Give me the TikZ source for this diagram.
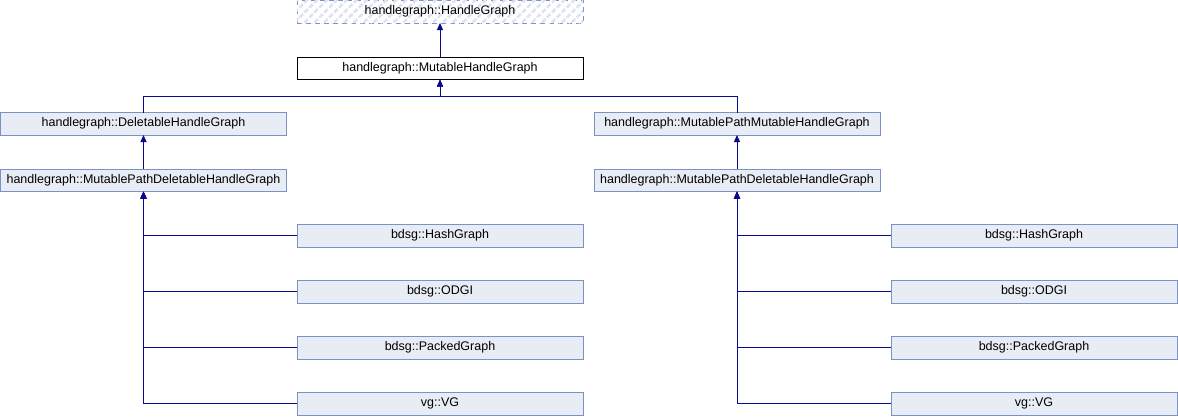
\documentclass[tikz,border=0pt]{standalone}
\usepackage{fontspec}
\setmainfont{Liberation Sans}
\usetikzlibrary{arrows.meta,patterns.meta}
\definecolor{boxfill}{HTML}{E8ECF5}
\definecolor{boxdraw}{HTML}{7A92C8}
\definecolor{edge}{HTML}{0A0A8C}
\definecolor{hatch}{HTML}{DDE3F0}
\begin{document}
\begin{tikzpicture}[x=1pt,y=-1pt,
  cls/.style={draw=boxdraw, fill=boxfill, line width=1pt, minimum width=286pt, minimum height=22.5pt, inner sep=0pt, outer sep=0pt, font=\fontsize{12.5}{14}\selectfont, anchor=north west},
  root/.style={cls, draw=black, fill=white},
  ext/.style={cls, dash pattern=on 5pt off 4pt, fill=white, postaction={pattern={Lines[angle=45,distance=7pt,line width=2.5pt]}, pattern color=hatch}},
  arr/.style={draw=edge, line width=1pt, -{Triangle[length=7pt,width=6pt]}}
]
\useasboundingbox (0,0) rectangle (1178,416);
\node[ext] (hg) at (297,0.5) {handlegraph::HandleGraph};
\node[root] (mhg) at (297,57) {handlegraph::MutableHandleGraph};
\node[cls] (del) at (0.5,112.5) {handlegraph::DeletableHandleGraph};
\node[cls] (mpm) at (594,112.5) {handlegraph::MutablePathMutableHandleGraph};
\node[cls] (mpdL) at (0.5,169) {handlegraph::MutablePathDeletableHandleGraph};
\node[cls] (mpdR) at (594,169) {handlegraph::MutablePathDeletableHandleGraph};
\node[cls] (hashL) at (297,224.5) {bdsg::HashGraph};
\node[cls] (odgiL) at (297,280.5) {bdsg::ODGI};
\node[cls] (packL) at (297,336.5) {bdsg::PackedGraph};
\node[cls] (vgL) at (297,392.5) {vg::VG};
\node[cls] (hashR) at (891,224.5) {bdsg::HashGraph};
\node[cls] (odgiR) at (891,280.5) {bdsg::ODGI};
\node[cls] (packR) at (891,336.5) {bdsg::PackedGraph};
\node[cls] (vgR) at (891,392.5) {vg::VG};
\coordinate (bus) at (440,96);
\draw[arr] (mhg.north) -- (hg.south);
\draw[arr] (del.north) |- (bus) -| (mhg.south);
\draw[arr] (mpm.north) |- (bus) -| (mhg.south);
\draw[arr] (mpdL.north) -- (del.south);
\draw[arr] (mpdR.north) -- (mpm.south);
\foreach \c in {vgL,packL,odgiL,hashL} \draw[arr] (\c.west) -| (mpdL.south);
\foreach \c in {vgR,packR,odgiR,hashR} \draw[arr] (\c.west) -| (mpdR.south);
\end{tikzpicture}
\end{document}
